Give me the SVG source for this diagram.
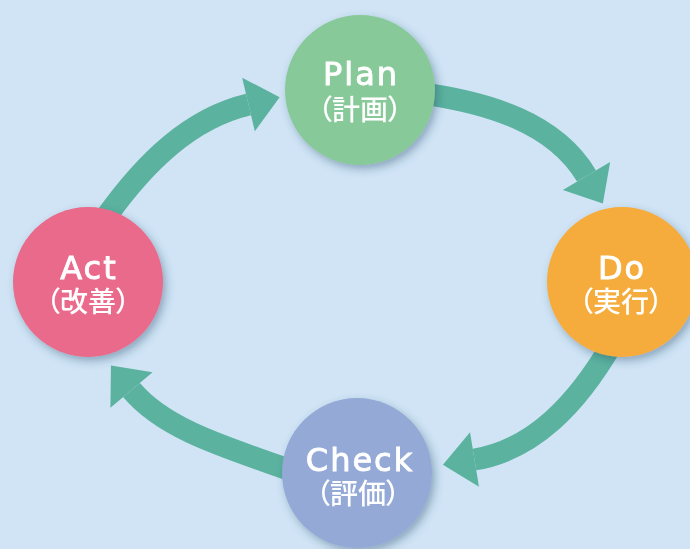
<svg xmlns="http://www.w3.org/2000/svg" width="690" height="549" viewBox="0 0 690 549">
  <style>
    .shaft { fill: none; stroke: #5bb29e; stroke-width: 22; marker-end: url(#ah); }
    .node { filter: url(#sh); }
    .en { font-family: "DejaVu Sans", "Liberation Sans", sans-serif; font-size: 32px; fill: #ffffff; stroke: #ffffff; stroke-width: 0.9px; text-anchor: middle; letter-spacing: 2px; }
    .jp { font-family: "Noto Sans CJK JP", "Noto Sans", sans-serif; font-size: 28px; font-weight: 500; fill: #ffffff; text-anchor: middle; font-feature-settings: "palt" 1; }
  </style>
  <defs>
    <marker id="ah" markerUnits="userSpaceOnUse" viewBox="0 0 34 60" refX="0" refY="30" markerWidth="34" markerHeight="60" orient="auto" overflow="visible">
      <path d="M0,2.5 L32,30 L0,57.5 Z" fill="#5bb29e"/>
    </marker>
    <filter id="sh" x="-30%" y="-30%" width="160%" height="160%">
      <feDropShadow dx="3" dy="4" stdDeviation="4" flood-color="#2c4a6b" flood-opacity="0.4"/>
    </filter>
  </defs>
  <rect x="0" y="0" width="690" height="549" fill="#d0e4f5"/>

  <g id="connectors">
    <path class="shaft" d="M420,93 C489,102.7 554.8,122.7 586.5,176"/>
    <path class="shaft" d="M612,344 C577,404 533.5,449.8 474.5,459.5"/>
    <path class="shaft" d="M293,471 C228,448 165,430 131.5,390"/>
    <path class="shaft" d="M106,217 C145.5,161.8 190.6,118.2 248.5,104.5"/>
  </g>

  <g id="plan" class="node">
    <circle cx="360" cy="90" r="75" fill="#88c99a"/>
    <text class="en" x="361" y="85">Plan</text>
    <text class="jp" x="360" y="120">（計画）</text>
  </g>
  <g id="do" class="node">
    <circle cx="622" cy="282" r="75" fill="#f5ac3c"/>
    <text class="en" x="622" y="279">Do</text>
    <text class="jp" x="621" y="312">（実行）</text>
  </g>
  <g id="check" class="node">
    <circle cx="357" cy="473" r="75" fill="#94a9d6"/>
    <text class="en" x="360" y="471">Check</text>
    <text class="jp" x="358" y="504">（評価）</text>
  </g>
  <g id="act" class="node">
    <circle cx="88" cy="282" r="75" fill="#e96b8b"/>
    <text class="en" x="89" y="279">Act</text>
    <text class="jp" x="88" y="312">（改善）</text>
  </g>
</svg>
